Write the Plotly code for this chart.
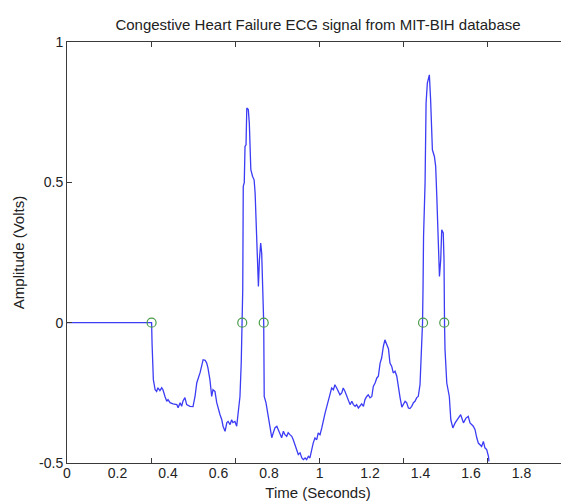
import plotly.graph_objects as go

# ECG trace (time in seconds, amplitude in volts)
time_s = [0.0, 0.335, 0.337, 0.339, 0.342, 0.349, 0.355, 0.360, 0.368, 0.375, 0.380, 0.388,
          0.395, 0.400, 0.408, 0.420, 0.435, 0.440, 0.448, 0.454, 0.459, 0.467, 0.474, 0.487,
          0.499, 0.507, 0.514, 0.527, 0.539, 0.547, 0.553, 0.558, 0.566, 0.573, 0.578, 0.586,
          0.593, 0.606, 0.613, 0.618, 0.626, 0.633, 0.638, 0.646, 0.652, 0.657, 0.665, 0.672,
          0.677, 0.685, 0.690, 0.692, 0.694, 0.696, 0.698, 0.702, 0.705, 0.709, 0.712,
          0.718, 0.722, 0.725, 0.728, 0.735, 0.741, 0.745, 0.751, 0.754, 0.758, 0.762, 0.767,
          0.771, 0.773, 0.776, 0.779, 0.781, 0.788, 0.797, 0.804, 0.811, 0.817, 0.824, 0.831,
          0.837, 0.844, 0.850, 0.857, 0.863, 0.870, 0.876, 0.883, 0.890, 0.896, 0.903, 0.910,
          0.916, 0.923, 0.930, 0.936, 0.943, 0.949, 0.956, 0.962, 0.969, 0.975, 0.982, 0.989,
          0.995, 1.002, 1.009, 1.015, 1.022, 1.029, 1.035, 1.042, 1.048, 1.055, 1.061, 1.068,
          1.075, 1.081, 1.088, 1.094, 1.101, 1.108, 1.114, 1.121, 1.128, 1.134, 1.141, 1.147,
          1.154, 1.160, 1.167, 1.174, 1.180, 1.187, 1.193, 1.200, 1.207, 1.213, 1.220, 1.227,
          1.233, 1.240, 1.246, 1.253, 1.259, 1.265, 1.273, 1.279, 1.286, 1.292, 1.299, 1.306,
          1.312, 1.319, 1.326, 1.332, 1.339, 1.345, 1.352, 1.358, 1.365, 1.372, 1.378, 1.385,
          1.391, 1.398, 1.403, 1.408, 1.410, 1.412, 1.418, 1.422, 1.427, 1.435, 1.440, 1.444,
          1.447, 1.455, 1.460, 1.464, 1.471, 1.475, 1.480, 1.484, 1.490, 1.493, 1.495, 1.497,
          1.504, 1.510, 1.514, 1.520, 1.528, 1.537, 1.550, 1.559, 1.570, 1.580, 1.589, 1.596,
          1.609, 1.616, 1.623, 1.629, 1.642, 1.649, 1.655, 1.662, 1.669, 1.671]
amplitude_v = [0.0, 0.0, -0.078, -0.196, -0.203, -0.239, -0.245, -0.232, -0.242, -0.232, -0.239, -0.263,
               -0.280, -0.274, -0.285, -0.289, -0.292, -0.303, -0.285, -0.298, -0.280, -0.267, -0.292, -0.298,
               -0.299, -0.263, -0.214, -0.178, -0.132, -0.134, -0.143, -0.160, -0.203, -0.263, -0.239, -0.245,
               -0.285, -0.328, -0.346, -0.369, -0.387, -0.356, -0.352, -0.363, -0.346, -0.356, -0.352, -0.369,
               -0.321, -0.263, -0.143, 0.0, 0.107, 0.118, 0.486, 0.499, 0.628, 0.634, 0.765,
               0.759, 0.711, 0.592, 0.545, 0.521, 0.509, 0.462, 0.284, 0.177, 0.129, 0.224, 0.284,
               0.248, 0.153, 0.106, 0.0, -0.263, -0.285, -0.334, -0.381, -0.410, -0.392, -0.374, -0.369,
               -0.381, -0.392, -0.410, -0.387, -0.399, -0.405, -0.392, -0.399, -0.405, -0.417, -0.435, -0.452,
               -0.470, -0.464, -0.482, -0.488, -0.482, -0.488, -0.476, -0.482, -0.452, -0.429, -0.411, -0.417,
               -0.393, -0.399, -0.375, -0.346, -0.322, -0.298, -0.274, -0.250, -0.233, -0.239, -0.221, -0.233,
               -0.245, -0.257, -0.250, -0.233, -0.245, -0.263, -0.280, -0.292, -0.280, -0.292, -0.298, -0.292,
               -0.304, -0.298, -0.289, -0.298, -0.274, -0.263, -0.257, -0.268, -0.263, -0.227, -0.215, -0.197,
               -0.191, -0.144, -0.126, -0.084, -0.061, -0.075, -0.093, -0.144, -0.156, -0.179, -0.173, -0.191,
               -0.232, -0.267, -0.301, -0.289, -0.280, -0.285, -0.304, -0.306, -0.298, -0.285, -0.280, -0.267,
               -0.263, -0.221, -0.114, 0.0, 0.129, 0.307, 0.498, 0.783, 0.854, 0.883, 0.794, 0.699,
               0.616, 0.592, 0.557, 0.462, 0.236, 0.165, 0.224, 0.331, 0.320, 0.224, 0.0, -0.096,
               -0.215, -0.239, -0.263, -0.346, -0.375, -0.357, -0.340, -0.328, -0.357, -0.340, -0.334, -0.357,
               -0.369, -0.381, -0.411, -0.429, -0.441, -0.423, -0.446, -0.452, -0.476, -0.494]

# Zero-crossing markers
marker_t = [0.335, 0.694, 0.779, 1.410, 1.494]
marker_v = [0.0, 0.0, 0.0, 0.0, 0.0]

# Axis labels
x_tick_vals = [0, 0.2, 0.4, 0.6, 0.8, 1.0, 1.2, 1.4, 1.6, 1.8]
x_tick_text = ["0", "0.2", "0.4", "0.6", "0.8", "1", "1.2", "1.4", "1.6", "1.8"]
x_mark_vals = [0, 1 / 3, 2 / 3, 1.0, 4 / 3, 5 / 3]
y_tick_vals = [-0.5, 0, 0.5, 1]
y_tick_text = ["-0.5", "0", "0.5", "1"]

XR = [0, 1.988]
YR = [-0.5, 1.0]
AX = "#3a3a3a"
TXT = "#222222"
FONT = "Liberation Sans, Arial, sans-serif"

# The page body adds an 8 px offset, so the figure is 8 px smaller on each side
W, H = 561, 496

fig = go.Figure()
fig.add_trace(go.Scatter(x=time_s, y=amplitude_v, mode="lines",
                         line=dict(color="#3c3cf5", width=1.3), showlegend=False,
                         hoverinfo="skip"))
fig.add_trace(go.Scatter(x=marker_t, y=marker_v, mode="markers", xaxis="x2", yaxis="y2",
                         marker=dict(symbol="circle-open", size=9, color="#4a9a4a",
                                     line=dict(width=1.2)),
                         showlegend=False))

fig.update_layout(
    width=W, height=H,
    margin=dict(l=59, r=0, t=34, b=41, autoexpand=False),
    paper_bgcolor="white", plot_bgcolor="white",
    font=dict(family=FONT, size=14, color=TXT),
    title=dict(text="Congestive Heart Failure ECG signal from MIT-BIH database",
               x=310 / W, xanchor="center", y=1 - 17 / H, yanchor="middle",
               font=dict(size=15, color=TXT)),
    # main x axis: plain tick marks at thirds, box line on bottom and top
    xaxis=dict(range=XR, tickvals=x_mark_vals, ticks="inside", ticklen=5, tickcolor=AX,
               showticklabels=False, showline=True, linecolor=AX, linewidth=1, mirror="ticks",
               showgrid=False, zeroline=False, automargin=False),
    # labelled axis: decimal labels without tick marks
    xaxis2=dict(range=XR, overlaying="x", anchor="y", side="bottom",
                tickvals=x_tick_vals, ticktext=x_tick_text, ticks="",
                showline=False, showgrid=False, zeroline=False, automargin=False,
                tickfont=dict(size=14, color=TXT),
                title=dict(text="Time (Seconds)", font=dict(size=15, color=TXT), standoff=7)),
    yaxis=dict(range=YR, tickvals=y_tick_vals, ticktext=y_tick_text, ticks="inside",
               ticklen=5, tickcolor=AX, showline=True, linecolor=AX, linewidth=1,
               showgrid=False, zeroline=False, automargin=False,
               tickfont=dict(size=14, color=TXT),
               title=dict(text="Amplitude (Volts)", font=dict(size=15, color=TXT), standoff=10)),
    yaxis2=dict(range=YR, overlaying="y", anchor="x", side="right",
                tickvals=y_tick_vals, ticks="inside", ticklen=5, tickcolor=AX,
                showline=False, showticklabels=False, showgrid=False, zeroline=False,
                automargin=False),
)

fig.write_html("out.html")
